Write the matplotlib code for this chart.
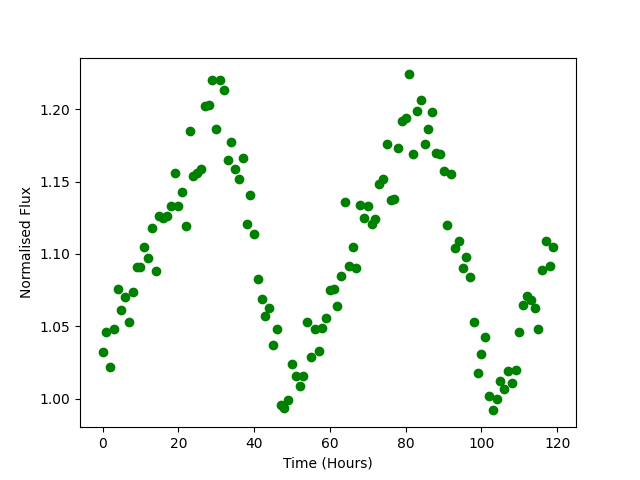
import matplotlib

matplotlib.use("Agg")

import matplotlib.pyplot as plt

# Hours since start of observation, one sample per hour
hours = list(range(120))

# Normalised flux
flux = [
    1.032, 1.046, 1.022, 1.048, 1.076, 1.061, 1.070, 1.053, 1.074, 1.091,
    1.091, 1.105, 1.097, 1.118, 1.088, 1.126, 1.125, 1.126, 1.133, 1.156,
    1.133, 1.143, 1.119, 1.185, 1.154, 1.156, 1.159, 1.202, 1.203, 1.220,
    1.186, 1.220, 1.213, 1.165, 1.177, 1.159, 1.152, 1.166, 1.121, 1.141,
    1.114, 1.083, 1.069, 1.057, 1.063, 1.037, 1.048, 0.996, 0.994, 0.999,
    1.024, 1.016, 1.009, 1.016, 1.053, 1.029, 1.048, 1.033, 1.049, 1.056,
    1.075, 1.076, 1.064, 1.085, 1.136, 1.092, 1.105, 1.090, 1.134, 1.125,
    1.133, 1.121, 1.124, 1.148, 1.152, 1.176, 1.137, 1.138, 1.173, 1.192,
    1.194, 1.224, 1.169, 1.199, 1.206, 1.176, 1.186, 1.198, 1.170, 1.169,
    1.157, 1.120, 1.155, 1.104, 1.109, 1.090, 1.098, 1.084, 1.053, 1.018,
    1.031, 1.043, 1.002, 0.992, 1.000, 1.012, 1.007, 1.019, 1.011, 1.020,
    1.046, 1.065, 1.071, 1.068, 1.063, 1.048, 1.089, 1.109, 1.092, 1.105,
]

fig, ax = plt.subplots(figsize=(6.4, 4.8), dpi=100)
ax.plot(hours, flux, "o", color="green")
ax.set_xlabel("Time (Hours)")
ax.set_ylabel("Normalised Flux")

fig.savefig("out.png", dpi=100)
